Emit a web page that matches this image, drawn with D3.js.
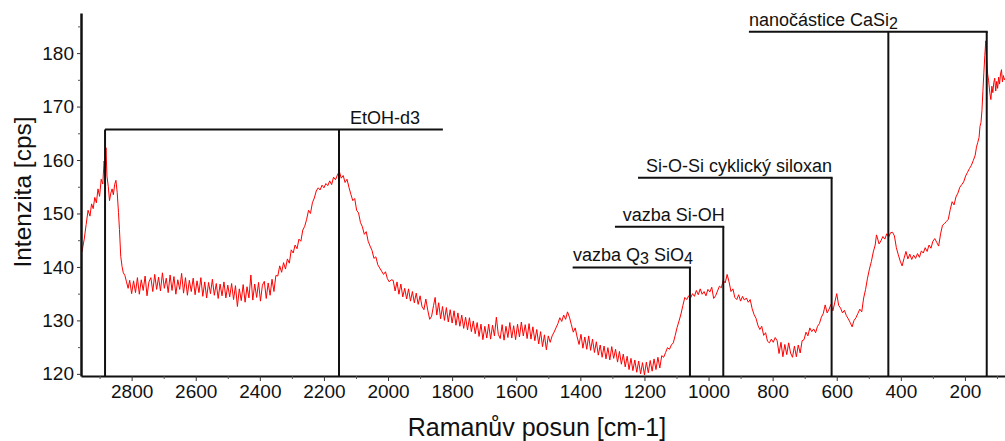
<!DOCTYPE html>
<html><head><meta charset="utf-8">
<script src="https://cdn.jsdelivr.net/npm/d3@7"></script>
<style>
body{margin:0;background:#fff}
svg{display:block}
text{font-family:"Liberation Sans",Arial,sans-serif;fill:#111}
</style>
</head><body>
<svg id="chart" width="1005" height="441"></svg>
<script>
// Raman spectrum: [Raman shift (cm-1), intensity (cps)]
const spectrum = [
[2955,142.8],[2948,145.2],[2942,147.9],[2936,150.6],[2930,149.5],[2925,151.8],[2920,150.9],[2915,153.0],[2910,152.0],[2905,154.6],
[2900,153.2],[2895,156.4],[2890,155.5],[2886,159.8],[2883,158.6],[2880,162.3],[2877,157.0],[2873,155.1],[2869,152.4],[2865,153.8],
[2861,154.6],[2857,153.5],[2853,155.4],[2849,156.2],[2845,153.9],[2841,150.2],[2838,147.0],[2834,142.0],[2830,140.1],[2826,138.9],
[2821,138.4],[2816,137.2],[2811,136.0],[2806,137.5],
[2800,135.0],[2794,137.4],[2788,135.2],[2782,138.0],[2776,134.9],[2770,137.6],[2764,135.6],[2758,138.3],[2752,134.6],[2746,137.2],
[2740,138.0],[2734,135.4],[2728,138.6],[2722,135.8],[2716,138.1],[2710,135.5],[2704,138.9],[2698,136.0],[2692,137.9],[2686,135.2],
[2680,138.5],[2674,135.6],[2668,138.2],[2662,134.9],[2656,137.6],[2650,135.8],[2644,138.8],[2638,135.1],[2632,138.0],[2626,134.7],
[2620,137.5],[2614,135.4],[2608,137.9],[2602,134.8],[2596,137.4],[2590,135.2],[2584,138.0],[2578,134.5],[2572,137.2],[2566,134.2],
[2560,137.1],[2554,135.0],[2548,137.7],[2542,134.7],[2536,136.9],[2530,134.1],[2524,136.8],[2518,134.6],[2512,137.2],[2506,134.2],
[2500,136.6],[2494,134.4],[2488,136.9],[2482,133.9],[2476,136.5],[2470,132.6],[2464,135.9],[2458,133.7],[2452,136.7],[2446,133.4],
[2440,136.3],[2434,134.2],[2428,138.5],[2422,133.8],[2416,136.8],[2410,134.3],[2404,137.1],[2398,133.6],[2392,136.6],[2386,137.3],
[2380,134.1],[2374,137.0],[2368,134.7],[2362,137.7],[2356,135.4],[2350,138.4],
[2344,138.3],[2338,140.2],[2332,139.0],[2326,140.8],[2320,139.6],[2314,141.5],[2308,140.7],[2302,143.2],[2296,142.6],[2290,144.1],
[2284,143.4],[2278,145.2],[2272,144.8],[2266,146.9],[2260,147.6],[2254,148.9],[2248,150.6],[2242,150.0],[2236,152.0],[2230,152.9],
[2224,154.2],[2218,154.8],[2212,154.4],[2206,155.3],[2200,154.8],[2194,155.6],[2188,155.2],[2182,156.1],[2176,155.4],[2170,156.8],
[2164,156.3],[2158,157.2],[2152,157.9],[2146,156.6],[2140,157.1],[2134,155.8],[2128,156.4],[2122,154.9],[2116,153.6],[2110,152.4],
[2104,152.8],[2098,150.6],[2092,150.1],[2086,148.3],[2080,147.5],[2074,146.1],[2068,146.6],[2062,144.8],[2056,143.9],[2050,143.1],
[2044,141.6],[2038,141.9],[2032,140.4],[2026,139.8],[2020,139.2],[2014,138.6],[2008,139.1],[2002,137.8],[1996,137.2],[1990,137.6],
[1984,137.5],[1978,135.5],[1972,137.2],[1966,134.9],[1960,136.8],[1954,134.4],[1948,136.0],[1942,134.0],[1936,135.9],[1930,133.6],
[1924,135.4],[1918,133.3],[1912,135.1],[1906,133.0],[1900,134.6],[1894,132.6],[1888,132.0],[1882,134.0],[1876,131.9],[1870,130.2],
[1864,130.8],[1858,132.8],[1853,134.3],[1848,131.0],[1842,133.3],[1836,130.3],[1830,132.6],[1824,130.0],[1818,132.4],[1812,129.7],
[1806,132.0],[1800,129.5],[1794,131.8],[1788,129.1],[1782,131.4],[1776,128.9],[1770,131.0],[1764,128.5],[1758,130.6],[1752,128.2],
[1746,130.5],[1740,127.9],[1734,129.9],[1728,127.5],[1722,129.6],[1716,127.0],[1710,129.3],[1704,126.4],
[1698,128.9],[1692,126.7],[1686,129.3],[1680,126.5],[1674,129.1],[1668,127.1],[1662,130.6],[1656,127.4],[1650,126.6],[1644,129.2],
[1638,126.3],[1632,128.9],[1626,126.8],[1620,129.6],[1614,126.7],[1608,129.0],[1602,126.4],[1596,129.3],[1590,126.9],[1584,129.7],
[1578,127.1],[1572,129.2],[1566,126.6],[1560,129.4],[1554,126.5],[1548,128.8],[1542,126.2],[1536,128.3],[1530,125.6],[1524,127.9],
[1518,125.1],[1512,127.3],[1506,124.5],[1500,127.1],
[1494,125.9],[1488,127.1],[1482,127.8],[1476,128.6],[1470,129.4],[1464,130.5],[1458,129.8],[1452,131.0],
[1446,130.2],[1440,131.6],[1434,130.6],[1428,129.2],[1422,127.8],[1416,128.6],[1410,126.9],
[1404,125.5],[1398,127.4],[1392,124.8],[1386,126.9],[1380,124.6],[1374,127.1],[1368,124.4],[1362,126.5],[1356,124.0],[1350,126.0],
[1344,123.5],[1338,125.4],[1332,123.1],[1326,125.2],[1320,122.8],[1314,124.9],[1308,122.6],[1302,125.1],[1296,122.9],[1290,124.6],
[1284,122.2],[1278,124.2],[1272,121.8],[1266,123.7],[1260,121.3],[1254,123.3],[1248,120.8],[1242,122.9],[1236,120.6],[1230,122.6],
[1224,120.3],[1218,122.4],[1212,120.0],[1206,122.1],[1200,119.8],[1194,122.2],[1188,120.2],[1182,122.5],[1176,120.5],[1170,122.8],
[1164,120.8],[1158,123.1],[1152,121.1],[1146,123.4],
[1140,123.1],[1134,124.0],[1128,124.9],[1122,124.6],[1116,125.4],[1110,125.8],[1104,127.2],[1098,128.7],[1092,129.9],
[1086,131.2],[1080,132.8],[1074,134.3],[1068,133.9],[1062,134.6],[1056,134.2],[1050,135.0],[1044,134.5],[1038,135.6],[1032,134.8],
[1026,135.9],[1020,134.9],[1014,135.4],[1008,134.6],[1002,135.8],[996,135.3],[990,136.2],[984,134.1],[978,134.6],[972,135.5],
[966,136.4],[960,136.1],[954,137.5],[948,137.0],[942,138.6],[936,137.2],[930,135.4],[924,135.9],[918,134.3],[912,133.9],
[906,134.8],[900,133.6],[894,134.5],[888,133.8],[882,134.2],[876,133.4],[870,133.9],[864,132.2],[858,131.1],[852,130.4],
[846,129.1],[840,128.3],[834,128.9],[828,127.2],[822,127.7],[816,126.1],[810,125.8],[804,126.5],[798,125.9],[792,126.8],
[786,126.2],[780,123.8],[774,125.9],[768,123.2],[762,125.5],[756,123.6],[750,125.8],[744,123.9],[738,123.1],[732,125.2],
[726,123.2],[720,125.4],[714,123.9],[708,126.2],
[702,126.4],[696,127.8],[690,127.1],[684,128.6],[678,127.9],[672,128.4],
[666,127.7],[660,128.9],[654,129.4],[648,130.6],[642,131.3],[636,132.9],[630,131.4],[624,132.1],[618,133.0],[612,131.8],
[606,133.4],[600,135.0],[594,132.8],[588,132.3],[582,131.4],[576,131.9],[570,130.9],[564,130.3],[558,129.6],[552,128.8],
[546,130.0],[540,130.5],[534,131.3],[528,132.1],[522,131.6],[516,134.2],[510,135.8],[504,137.9],[498,139.6],[492,141.0],
[486,142.8],[480,144.1],[476,146.0],[472,145.2],[468,144.3],[462,144.9],[456,145.7],[450,145.2],[444,146.2],[438,145.6],
[432,146.4],[426,146.5],[420,145.8],[414,143.6],[408,142.3],[402,141.1],[396,140.2],[390,141.6],[384,142.9],[378,141.5],
[372,142.4],[366,141.4],[360,142.2],[354,141.6],[348,142.5],[342,141.8],[336,143.0],[330,142.6],[324,143.6],[318,142.9],
[312,144.1],[306,143.5],[300,144.8],[294,145.3],[288,144.6],[282,143.9],[276,146.2],[270,147.8],[264,148.1],[258,148.5],
[252,148.9],[246,150.7],[240,152.2],[234,151.6],[228,153.1],[222,153.8],[216,154.9],[210,155.4],[204,155.9],[198,157.0],
[192,157.7],[186,158.4],[180,159.0],[174,159.9],[168,160.9],[164,162.4],[160,163.3],[156,164.2],[153,166.3],[150,167.0],
[147,169.2],[144,172.8],[141,176.3],[138,179.5],[135,182.3],[132,178.4],[129,176.0],[126,174.8],[122,172.4],[119,171.3],
[116,173.8],[113,172.6],[110,174.5],[107,175.3],[104,172.9],[101,174.7],[98,173.4],[95,175.5],[92,174.2],[89,176.1],
[86,176.9],[83,174.6],[80,175.8],[77,175.0],[75,175.3]
];

const xTicks = [2800,2600,2400,2200,2000,1800,1600,1400,1200,1000,800,600,400,200];
const xMinorTicks = [2900,2700,2500,2300,2100,1900,1700,1500,1300,1100,900,700,500,300,100];
const yTicks = [120,130,140,150,160,170,180];
const yMinorTicks = [125,135,145,155,165,175,185];

// Band assignments: label, bracket level (cps), bracket start (cm-1), label start (cm-1), marked peaks (cm-1)
const bandLabels = ["EtOH-d3","vazba Q|3| SiO|4","vazba Si-OH","Si-O-Si cyklický siloxan","nanočástice CaSi|2"];
const bandLevels = [165.7,139.9,147.5,156.7,184.0];
const bandStarts = [2883,1424,1292,1220,874];
const bandEnds = [1832,1058,954,616,132];
const bandLabelAt = [2119,1423,1268,1195,874];
const bandMarks = [[2883,2153],[1058],[954],[616],[439,132]];

const xTitle = "Ramanův posun [cm-1]";
const yTitle = "Intenzita [cps]";

const svg = d3.select("#chart");
const mLeft = 81, mRight = 1005, mTop = 13, mBottom = 376;

const x = d3.scaleLinear().domain([2958, 75]).range([mLeft, mRight]);
const y = d3.scaleLinear().domain([119.6, 187.5]).range([mBottom, mTop]);

svg.append("defs").append("clipPath").attr("id","plot")
  .append("rect").attr("x",mLeft).attr("y",0).attr("width",mRight-mLeft).attr("height",mBottom);

// spectrum
svg.append("path")
  .datum(spectrum)
  .attr("clip-path","url(#plot)")
  .attr("fill","none")
  .attr("stroke","#ff0000")
  .attr("stroke-width",1)
  .attr("stroke-linejoin","round")
  .attr("d", d3.line().x(d=>x(d[0])).y(d=>y(d[1])));

// annotation brackets
const ann = svg.append("g").attr("stroke","#111").attr("stroke-width",2).attr("fill","none");
bandLabels.forEach((lab,i)=>{
  const yl = y(bandLevels[i]);
  ann.append("line").attr("x1",x(bandStarts[i])).attr("x2",x(bandEnds[i])+1).attr("y1",yl).attr("y2",yl);
  bandMarks[i].forEach(m=>{
    ann.append("line").attr("x1",x(m)).attr("x2",x(m)).attr("y1",yl).attr("y2",mBottom);
  });
  const t = svg.append("text").attr("x",x(bandLabelAt[i])).attr("y",yl-6)
    .style("font-size","18px");
  lab.split("|").forEach((part,k)=>{
    if(!part) return;
    if(k%2===1){
      t.append("tspan").attr("dy",3).style("font-size","16px").text(part);
    } else {
      t.append("tspan").attr("dy",k===0?0:-3).text(part);
    }
  });
});

// axes
const xAxis = d3.axisBottom(x).tickValues(xTicks).tickSize(5).tickSizeOuter(0).tickPadding(4).tickFormat(d3.format("d"));
const gx = svg.append("g").attr("transform",`translate(0,${mBottom})`).call(xAxis);
gx.selectAll("text").style("font-size","19px").attr("fill","#111");
gx.selectAll(".tick line").attr("stroke","#333");
gx.select(".domain").attr("stroke","#111").attr("stroke-width",2);
const gxm = svg.append("g").attr("transform",`translate(0,${mBottom})`)
  .call(d3.axisBottom(x).tickValues(xMinorTicks).tickSize(3).tickSizeOuter(0).tickFormat(""));
gxm.select(".domain").remove();
gxm.selectAll(".tick line").attr("stroke","#555");

const yAxis = d3.axisLeft(y).tickValues(yTicks).tickSize(4).tickSizeOuter(0).tickPadding(3);
const gy = svg.append("g").attr("transform",`translate(${mLeft},0)`).call(yAxis);
gy.selectAll("text").style("font-size","19px").attr("fill","#111");
gy.selectAll(".tick line").attr("stroke","#333");
gy.select(".domain").attr("stroke","#111").attr("stroke-width",2.5);
const gym = svg.append("g").attr("transform",`translate(${mLeft},0)`)
  .call(d3.axisLeft(y).tickValues(yMinorTicks).tickSize(3).tickSizeOuter(0).tickFormat(""));
gym.select(".domain").remove();
gym.selectAll(".tick line").attr("stroke","#555");

// titles
svg.append("text").attr("x",537).attr("y",436).attr("text-anchor","middle")
  .style("font-size","25px").text(xTitle);
svg.append("text").attr("transform","translate(31,192) rotate(-90)").attr("text-anchor","middle")
  .style("font-size","24.5px").text(yTitle);
</script>
</body></html>
